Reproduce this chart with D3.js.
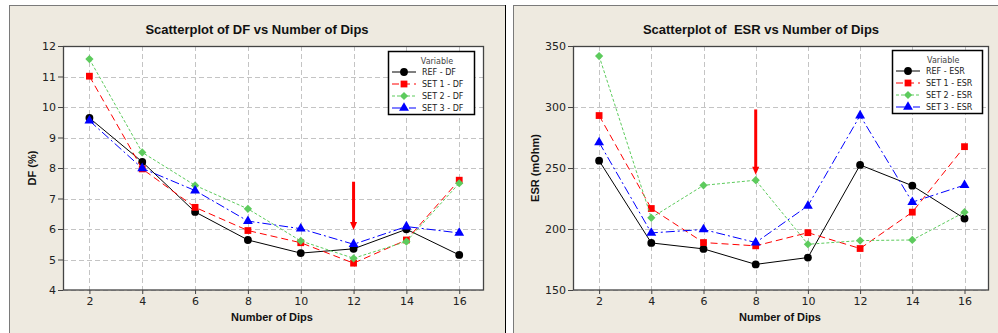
<!DOCTYPE html>
<html>
<head>
<meta charset="utf-8">
<script src="https://cdn.jsdelivr.net/npm/d3@7"></script>
<style>
  html, body { margin: 0; padding: 0; background: #fff; }
  svg { display: block; }
</style>
</head>
<body>
<svg id="chart" width="998" height="333"></svg>
<script>
// data
const dips = [2, 4, 6, 8, 10, 12, 14, 16];

const dfRef  = [9.64, 8.20, 6.56, 5.64, 5.21, 5.35, 5.99, 5.15];
const dfSet1 = [11.01, 7.97, 6.71, 5.95, 5.55, 4.88, 5.64, 7.60];
const dfSet2 = [11.57, 8.51, 7.43, 6.66, 5.61, 5.04, 5.59, 7.50];
const dfSet3 = [9.55, 7.99, 7.26, 6.26, 6.01, 5.50, 6.08, 5.87];

const esrRef  = [256, 188.6, 183.7, 171, 176.6, 252.5, 235.5, 208.6];
const esrSet1 = [293, 216.8, 188.9, 186.2, 197, 184, 213.8, 267.5];
const esrSet2 = [341.8, 209.2, 235.8, 240, 187.5, 190.5, 191, 213.8];
const esrSet3 = [271, 196.8, 199.6, 188.9, 219, 293, 222, 236];

const seriesNames = ["REF", "SET 1", "SET 2", "SET 3"];
const dfTicks = [4, 5, 6, 7, 8, 9, 10, 11, 12];
const esrTicks = [150, 200, 250, 300, 350];

// red arrows: [x, top value, tip value]
const dfArrow = [12, 7.55, 5.97];
const esrArrow = [8, 298, 244.5];

const colors = ["#000000", "#ff0000", "#5dcb5d", "#0000ff"];
const dashes = [null, "7,4", "3,2", "9,3,2,3"];
const symbols = [d3.symbolCircle, d3.symbolSquare, d3.symbolSquare, d3.symbolTriangle];
const symSize = [48, 46, 34, 42];
const symRot = [0, 0, 45, 0];

const svg = d3.select("#chart");
const beige = "#eeeae0";

// panel backgrounds
svg.append("rect").attr("x", 9.5).attr("y", 5.5).attr("width", 496).attr("height", 340)
  .attr("fill", beige).attr("stroke", "#7a7a7a");
svg.append("line").attr("x1", 505.5).attr("x2", 505.5).attr("y1", 5).attr("y2", 333)
  .attr("stroke", "#000");
svg.append("rect").attr("x", 513.5).attr("y", 5.5).attr("width", 500).attr("height", 340)
  .attr("fill", beige).attr("stroke", "#7a7a7a");

function panel(o) {
  const g = svg.append("g");
  const x = d3.scaleLinear().domain([1, 16.9]).range([o.left, o.right]);
  const y = d3.scaleLinear().domain(o.yDomain).range([290, 46]);

  g.append("rect").attr("x", o.left).attr("y", 46)
    .attr("width", o.right - o.left).attr("height", 244).attr("fill", "#fff");

  // grid
  g.append("g").selectAll("line").data(dips).join("line")
    .attr("x1", d => Math.round(x(d)) + 0.5).attr("x2", d => Math.round(x(d)) + 0.5)
    .attr("y1", 46).attr("y2", 290)
    .attr("stroke", "#c4c4c4").attr("stroke-dasharray", "5,3");
  g.append("g").selectAll("line").data(o.yTicks).join("line")
    .attr("x1", o.left).attr("x2", o.right)
    .attr("y1", d => Math.round(y(d)) + 0.5).attr("y2", d => Math.round(y(d)) + 0.5)
    .attr("stroke", "#c4c4c4").attr("stroke-dasharray", "5,3");

  // axes
  const xa = g.append("g").attr("transform", "translate(0,290)")
    .call(d3.axisBottom(x).tickValues(dips).tickSize(4).tickPadding(3).tickSizeOuter(0));
  const ya = g.append("g").attr("transform", `translate(${o.left},0)`)
    .call(d3.axisLeft(y).tickValues(o.yTicks).tickSize(5).tickPadding(2).tickSizeOuter(0));
  [xa, ya].forEach(a => {
    a.select(".domain").remove();
    a.selectAll("line").attr("stroke", "#444");
    a.selectAll("text").attr("font-family", "DejaVu Sans").attr("font-size", 11).attr("fill", "#222");
  });

  g.append("rect").attr("x", o.left + 0.5).attr("y", 46.5)
    .attr("width", o.right - o.left).attr("height", 243.5)
    .attr("fill", "none").attr("stroke", "#444").attr("stroke-width", 1.3);

  // series
  o.series.forEach((vals, i) => {
    const pts = dips.map((d, j) => [x(d), y(vals[j])]);
    g.append("path").attr("d", d3.line()(pts)).attr("fill", "none")
      .attr("stroke", colors[i]).attr("stroke-width", 1)
      .attr("stroke-dasharray", dashes[i]);
    g.append("g").selectAll("path").data(pts).join("path")
      .attr("transform", p => `translate(${p[0]},${p[1]}) rotate(${symRot[i]})`)
      .attr("d", d3.symbol(symbols[i], symSize[i]))
      .attr("fill", colors[i]);
  });

  // arrow
  const ax = x(o.arrow[0]), ay0 = y(o.arrow[1]), ay1 = y(o.arrow[2]);
  g.append("line").attr("x1", ax).attr("x2", ax).attr("y1", ay0).attr("y2", ay1 - 6)
    .attr("stroke", "#ff0000").attr("stroke-width", 3);
  g.append("path").attr("d", `M${ax - 3.5},${ay1 - 8}L${ax + 3.5},${ay1 - 8}L${ax},${ay1}Z`)
    .attr("fill", "#ff0000");

  // titles
  g.append("text").attr("x", o.titleX).attr("y", 34).attr("text-anchor", "middle")
    .attr("font-family", "Liberation Sans, Arial").attr("font-weight", "bold")
    .attr("font-size", 13).attr("fill", "#111").attr("xml:space", "preserve").text(o.title);
  g.append("text").attr("x", o.xLabelX).attr("y", 321).attr("text-anchor", "middle")
    .attr("font-family", "Liberation Sans, Arial").attr("font-weight", "bold")
    .attr("font-size", 11).attr("fill", "#111").text("Number of Dips");
  g.append("text").attr("transform", `translate(${o.yLabelX},168) rotate(-90)`)
    .attr("text-anchor", "middle")
    .attr("font-family", "Liberation Sans, Arial").attr("font-weight", "bold")
    .attr("font-size", 11).attr("fill", "#111").text(o.yLabel);

  // legend
  const L = o.legend;
  const lg = g.append("g");
  lg.append("rect").attr("x", L.x + 0.5).attr("y", L.y + 0.5).attr("width", L.w).attr("height", 63)
    .attr("fill", "#fff").attr("stroke", "#000").attr("stroke-width", 1.5);
  lg.append("text").attr("x", L.x + L.w * 0.57).attr("y", L.y + 12.5).attr("text-anchor", "middle")
    .attr("font-family", "DejaVu Sans").attr("font-size", 8).attr("fill", "#444").text("Variable");
  seriesNames.forEach((s, i) => {
    const yy = L.y + 21 + i * 12;
    lg.append("line").attr("x1", L.x + 4).attr("x2", L.x + 28).attr("y1", yy).attr("y2", yy)
      .attr("stroke", colors[i]).attr("stroke-dasharray", dashes[i]);
    lg.append("path").attr("transform", `translate(${L.x + 16},${yy}) rotate(${symRot[i]})`)
      .attr("d", d3.symbol(symbols[i], symSize[i])).attr("fill", colors[i]);
    lg.append("text").attr("x", L.x + 34).attr("y", yy + 3)
      .attr("font-family", "DejaVu Sans").attr("font-size", 8).attr("fill", "#222")
      .text(`${s} - ${o.suffix}`);
  });
}

panel({
  left: 63, right: 483, yDomain: [4, 12], yTicks: dfTicks,
  series: [dfRef, dfSet1, dfSet2, dfSet3], arrow: dfArrow,
  title: "Scatterplot of DF vs Number of Dips", titleX: 257, xLabelX: 272,
  yLabel: "DF (%)", yLabelX: 36, suffix: "DF",
  legend: { x: 388, y: 51, w: 86 }
});

panel({
  left: 573, right: 988, yDomain: [150, 350], yTicks: esrTicks,
  series: [esrRef, esrSet1, esrSet2, esrSet3], arrow: esrArrow,
  title: "Scatterplot of  ESR vs Number of Dips", titleX: 761, xLabelX: 780,
  yLabel: "ESR (mOhm)", yLabelX: 539, suffix: "ESR",
  legend: { x: 892, y: 50, w: 90 }
});
</script>
</body>
</html>
